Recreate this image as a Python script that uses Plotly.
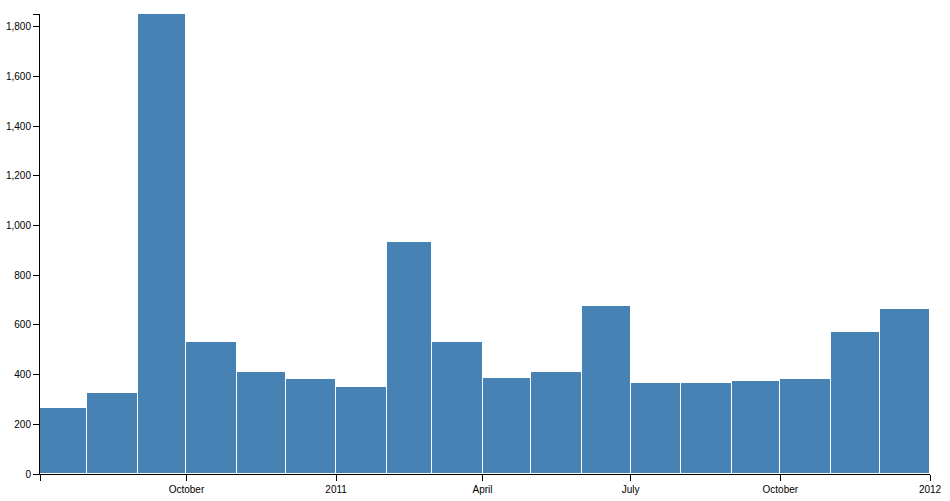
import plotly.graph_objects as go
import pandas as pd

# Monthly bins (start dates) and counts
bin_starts = ["2010-07-03", "2010-08-01", "2010-09-01", "2010-10-01", "2010-11-01", "2010-12-01",
              "2011-01-01", "2011-02-01", "2011-03-01", "2011-04-01", "2011-05-01", "2011-06-01",
              "2011-07-01", "2011-08-01", "2011-09-01", "2011-10-01", "2011-11-01", "2011-12-01"]
bin_ends = bin_starts[1:] + ["2012-01-01"]
counts = [267, 327, 1851, 530, 409, 382,
          350, 932, 530, 385, 409, 675,
          365, 365, 374, 382, 573, 663]

x_tick_vals = ["2010-07-03", "2010-10-01", "2011-01-01", "2011-04-01", "2011-07-01", "2011-10-01", "2012-01-01"]
x_tick_text = ["", "October", "2011", "April", "July", "October", "2012"]

y_max = max(counts)
y_tick_vals = list(range(0, 1801, 200)) + [y_max]
y_tick_text = [f"{v:,}" for v in range(0, 1801, 200)] + [""]

starts = pd.to_datetime(bin_starts)
ends = pd.to_datetime(bin_ends)
widths_ms = [(e - s).total_seconds() * 1000 for s, e in zip(starts, ends)]

fig = go.Figure(go.Bar(
    x=starts,
    y=counts,
    width=widths_ms,
    offset=0,
    marker=dict(color="#4682B4", line=dict(color="white", width=1)),
    hoverinfo="x+y",
))

font = dict(family="Liberation Sans, Arial, sans-serif", size=10, color="#000")

fig.update_layout(
    width=950, height=501,
    margin=dict(l=40, r=20, t=14, b=27, autoexpand=False),
    paper_bgcolor="white", plot_bgcolor="white",
    showlegend=False,
    bargap=0,
    font=font,
    xaxis=dict(
        type="date",
        range=[bin_starts[0], "2012-01-01"],
        tickmode="array", tickvals=x_tick_vals, ticktext=x_tick_text,
        showline=True, linecolor="black", linewidth=1,
        ticks="outside", ticklen=6, tickcolor="black", tickwidth=1,
        showgrid=False, zeroline=False, automargin=False,
        tickfont=font,
    ),
    yaxis=dict(
        range=[0, y_max],
        tickmode="array", tickvals=y_tick_vals, ticktext=y_tick_text,
        showline=True, linecolor="black", linewidth=1,
        ticks="outside", ticklen=6, tickcolor="black", tickwidth=1,
        showgrid=False, zeroline=False, automargin=False,
        tickfont=font,
    ),
)

fig.write_html(
    "out.html",
    config={"displayModeBar": False},
    post_script="document.body.style.margin='0';document.body.style.padding='0';",
)
